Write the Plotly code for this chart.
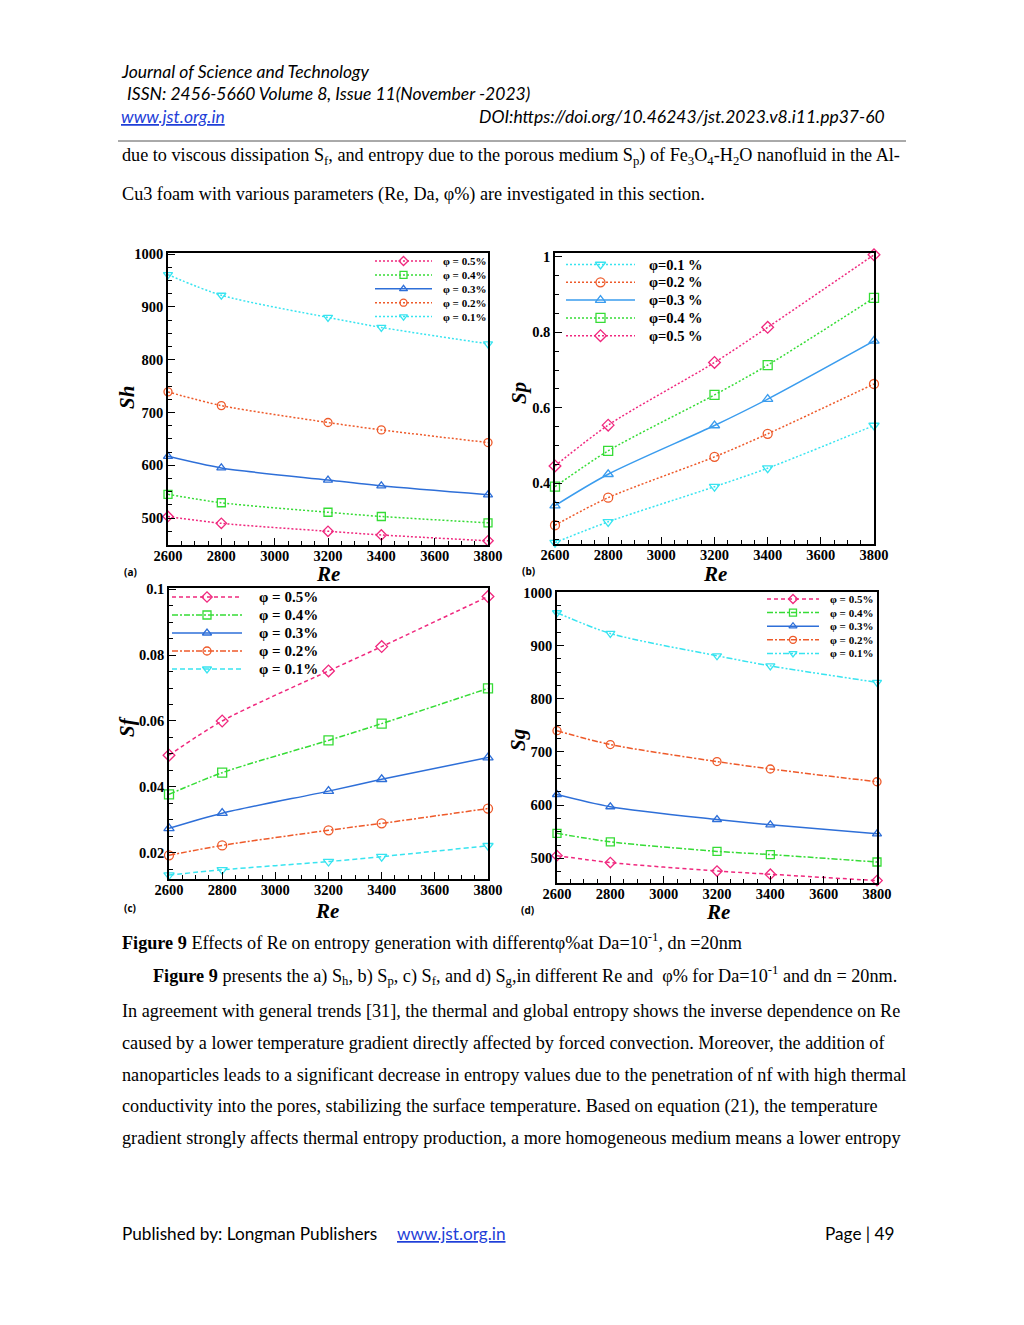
import plotly.graph_objects as go

W, H = 1024, 1325

# ---------------- data ----------------
re_vals = [2600, 2800, 3200, 3400, 3800]
phis = ["0.5", "0.4", "0.3", "0.2", "0.1"]

sh = {
    "0.5": [503, 490, 475, 468, 457],
    "0.4": [545, 529, 511, 503, 491],
    "0.3": [617, 595, 572, 561, 544],
    "0.2": [739, 713, 681, 667, 643],
    "0.1": [961, 922, 880, 861, 830],
}
sp = {
    "0.5": [0.446, 0.554, 0.720, 0.813, 1.005],
    "0.4": [0.391, 0.486, 0.634, 0.713, 0.891],
    "0.3": [0.341, 0.424, 0.553, 0.623, 0.777],
    "0.2": [0.289, 0.362, 0.470, 0.531, 0.663],
    "0.1": [0.243, 0.298, 0.391, 0.440, 0.553],
}
sf = {
    "0.5": [0.0496, 0.0600, 0.0752, 0.0826, 0.0978],
    "0.4": [0.0377, 0.0443, 0.0541, 0.0592, 0.0699],
    "0.3": [0.0274, 0.0320, 0.0387, 0.0423, 0.0489],
    "0.2": [0.0192, 0.0222, 0.0268, 0.0289, 0.0334],
    "0.1": [0.0132, 0.0148, 0.0173, 0.0188, 0.0221],
}
sg = {
    "0.5": [505, 492, 476, 470, 458],
    "0.4": [547, 531, 513, 507, 493],
    "0.3": [620, 597, 573, 563, 546],
    "0.2": [740, 714, 682, 668, 644],
    "0.1": [962, 923, 881, 862, 831],
}

x_ticks = [2600, 2800, 3000, 3200, 3400, 3600, 3800]
sp_ticks = [0.4, 0.6, 0.8, 1.0]
sp_ticktext = ["0.4", "0.6", "0.8", "1"]
sf_ticks = [0.02, 0.04, 0.06, 0.08, 0.1]
sf_ticktext = ["0.02", "0.04", "0.06", "0.08", "0.1"]

# ---------------- styles ----------------
symbols = {"0.5": "diamond-open", "0.4": "square-open", "0.3": "triangle-up-open",
           "0.2": "circle-open", "0.1": "triangle-down-open"}
col_main = {"0.5": "#F0287E", "0.4": "#36DC36", "0.3": "#2E6FD8",
            "0.2": "#EE5A2A", "0.1": "#38E4F0"}
col_b = dict(col_main)
col_b["0.3"] = "#3A9CEE"
DOT = "2px,2px"
DDOT = "6px,2px,2px,2px,2px,2px"
dash_a = {"0.5": DOT, "0.4": DOT, "0.3": "solid", "0.2": DOT, "0.1": DOT}
dash_c = {"0.5": "4px,3px", "0.4": "6px,2px,2px,2px", "0.3": "solid",
          "0.2": "6px,2px,2px,2px", "0.1": "5px,3px"}
dash_d = {"0.5": "4px,3px", "0.4": "6px,2px,2px,2px", "0.3": "solid",
          "0.2": "6px,2px,2px,2px", "0.1": DDOT}

SERIF = "Liberation Serif"

# panel geometry in page pixels: left, right, top, bottom
panels = [
    dict(key="a", data=sh, rng=[449, 1002], frame=(168, 488, 253, 545), colors=col_main,
         dash=dash_a, msize=8, ax=("x", "y")),
    dict(key="b", data=sp, rng=[0.2393, 1.0098], frame=(555, 874, 253, 544), colors=col_b,
         dash=dash_a, msize=9, ax=("x2", "y2")),
    dict(key="c", data=sf, rng=[0.0120, 0.1004], frame=(169, 488, 588, 879), colors=col_main,
         dash=dash_c, msize=9, ax=("x3", "y3")),
    dict(key="d", data=sg, rng=[453.5, 1001], frame=(557, 877, 592, 883), colors=col_main,
         dash=dash_d, msize=8, ax=("x4", "y4")),
]

fig = go.Figure()

for p in panels:
    for ph in phis:
        fig.add_trace(go.Scatter(
            x=re_vals, y=p["data"][ph], xaxis=p["ax"][0], yaxis=p["ax"][1],
            mode="lines+markers", line=dict(color=p["colors"][ph], width=1.5,
                                            dash=p["dash"][ph], shape="spline", smoothing=0.8),
            marker=dict(symbol=symbols[ph], size=p["msize"], color=p["colors"][ph],
                        line=dict(width=1.3, color=p["colors"][ph])),
            cliponaxis=False, showlegend=False, hoverinfo="skip"))

layout_axes = {}
for i, p in enumerate(panels):
    l, r, t, b = p["frame"]
    xn = "xaxis" if i == 0 else f"xaxis{i+1}"
    yn = "yaxis" if i == 0 else f"yaxis{i+1}"
    ya = "y" if i == 0 else f"y{i+1}"
    xa = "x" if i == 0 else f"x{i+1}"
    layout_axes[xn] = dict(
        domain=[l / W, r / W], anchor=ya, range=[2600, 3800], tickvals=x_ticks,
        ticks="inside", ticklen=7, tickwidth=1.2, tickcolor="black", automargin=False,
        ticklabelstandoff=-3,
        minor=dict(dtick=50, tick0=2600, ticks="inside", ticklen=4, tickcolor="black"),
        showline=True, linecolor="black", linewidth=1.5, mirror=True,
        showgrid=False, zeroline=False,
        tickfont=dict(family=SERIF, size=14.5, color="black", weight="bold"))
    yd = dict(
        domain=[1 - b / H, 1 - t / H], anchor=xa, range=p["rng"], automargin=False,
        ticks="inside", ticklen=7, tickwidth=1.2, tickcolor="black",
        showline=True, linecolor="black", linewidth=1.5, mirror=True,
        showgrid=False, zeroline=False,
        tickfont=dict(family=SERIF, size=14.5, color="black", weight="bold"))
    if p["key"] in ("a", "d"):
        yd.update(tick0=0, dtick=100, minor=dict(dtick=25, tick0=0, ticks="inside", ticklen=4, tickcolor="black"))
    elif p["key"] == "b":
        yd.update(tickvals=sp_ticks, ticktext=sp_ticktext,
                  minor=dict(dtick=0.05, tick0=0, ticks="inside", ticklen=4, tickcolor="black"))
    else:
        yd.update(tickvals=sf_ticks, ticktext=sf_ticktext,
                  minor=dict(dtick=0.005, tick0=0, ticks="inside", ticklen=4, tickcolor="black"))
    layout_axes[yn] = yd

# helper page axis for legends and page text
layout_axes["xaxis5"] = dict(domain=[0, 1], range=[0, W], visible=False, anchor="y5",
                             fixedrange=True, automargin=False)
layout_axes["yaxis5"] = dict(domain=[0, 1], range=[H, 0], visible=False, anchor="x5",
                             fixedrange=True, automargin=False)

# legends (drawn manually, page pixel layout)
legends = [
    dict(order=["0.5", "0.4", "0.3", "0.2", "0.1"], x0=375, x1=432, xt=441, y0=261, dy=13.9,
         fs=11, fmt="φ = {}%", colors=col_main, dash=dash_a, ms=7),
    dict(order=["0.1", "0.2", "0.3", "0.4", "0.5"], x0=566, x1=635, xt=647, y0=264.5, dy=17.8,
         fs=14.5, fmt="φ={} %", colors=col_b, dash=dash_a, ms=9),
    dict(order=["0.5", "0.4", "0.3", "0.2", "0.1"], x0=172, x1=242, xt=257, y0=597, dy=18.0,
         fs=15, fmt="φ = {}%", colors=col_main, dash=dash_c, ms=8),
    dict(order=["0.5", "0.4", "0.3", "0.2", "0.1"], x0=767, x1=819, xt=828, y0=599, dy=13.6,
         fs=11, fmt="φ = {}%", colors=col_main, dash=dash_d, ms=7),
]
annotations = []
for lg in legends:
    for k, ph in enumerate(lg["order"]):
        yy = lg["y0"] + k * lg["dy"]
        xm = (lg["x0"] + lg["x1"]) / 2
        fig.add_trace(go.Scatter(x=[lg["x0"], lg["x1"]], y=[yy, yy], xaxis="x5", yaxis="y5",
                                 mode="lines", line=dict(color=lg["colors"][ph], width=1.5, dash=lg["dash"][ph]),
                                 showlegend=False, hoverinfo="skip"))
        fig.add_trace(go.Scatter(x=[xm], y=[yy], xaxis="x5", yaxis="y5", mode="markers",
                                 marker=dict(symbol=symbols[ph], size=lg["ms"], color=lg["colors"][ph],
                                             line=dict(width=1.3, color=lg["colors"][ph])),
                                 showlegend=False, hoverinfo="skip"))
        annotations.append(dict(x=lg["xt"], y=yy, xref="x5", yref="y5", xanchor="left", yanchor="middle",
                                text="<b>" + lg["fmt"].format(ph) + "</b>", showarrow=False,
                                font=dict(family=SERIF, size=lg["fs"], color="black")))

# axis titles
titles = [
    ("Re", 328, 574, 0), ("Sh", 127, 398, -90),
    ("Re", 715, 574, 0), ("Sp", 519, 393, -90),
    ("Re", 327, 911, 0), ("Sf", 127, 727, -90),
    ("Re", 718, 912, 0), ("Sg", 518, 740, -90),
]
for txt, xx, yy, ang in titles:
    annotations.append(dict(x=xx, y=yy, xref="x5", yref="y5", xanchor="center", yanchor="middle",
                            text="<b><i>" + txt + "</i></b>", showarrow=False, textangle=ang,
                            font=dict(family=SERIF, size=21, color="black")))
# panel labels
for txt, xx, yy in [("(a)", 130, 572), ("(b)", 528, 571), ("(c)", 130, 908), ("(d)", 527, 910)]:
    annotations.append(dict(x=xx, y=yy, xref="x5", yref="y5", xanchor="center", yanchor="middle",
                            text="<b>" + txt + "</b>", showarrow=False,
                            font=dict(family="Open Sans", size=10, color="black")))

# page text
HDR = "Lato"
def page_text(txt, x, y, size, family=SERIF, anchor="left", style="normal", color="black"):
    annotations.append(dict(x=x, y=y, xref="x5", yref="y5", xanchor=anchor, yanchor="middle",
                            text=txt, showarrow=False,
                            font=dict(family=family, size=size, color=color, style=style)))

page_text("Journal of Science and Technology", 119, 71, 17.5, HDR, style="italic")
page_text(" ISSN: 2456-5660 Volume 8, Issue 11(November -2023)", 121, 93, 17.5, HDR, style="italic")
page_text("<u>www.jst.org.in</u>", 119, 116, 17.5, HDR, style="italic", color="#1F3FD8")
page_text("DOI:https://doi.org/10.46243/jst.2023.v8.i11.pp37-60", 477, 116, 17.5, HDR, style="italic")

body = 18.2
page_text("due to viscous dissipation S<sub>f</sub>, and entropy due to the porous medium S<sub>p</sub>) of "
          "Fe<sub>3</sub>O<sub>4</sub>-H<sub>2</sub>O nanofluid in the Al-", 120, 156, body)
page_text("Cu3 foam with various parameters (Re, Da, φ%) are investigated in this section.", 120, 194, body)
page_text("<b>Figure 9</b> Effects of Re on entropy generation with differentφ%at Da=10<sup>-1</sup>, dn =20nm",
          120, 941, body)
page_text("<b>Figure 9</b> presents the a) S<sub>h</sub>, b) S<sub>p</sub>, c) S<sub>f</sub>, and d) S<sub>g</sub>,"
          "in different Re and  φ% for Da=10<sup>-1</sup> and dn = 20nm.", 151, 975, body)
para = [
    "In agreement with general trends [31], the thermal and global entropy shows the inverse dependence on Re",
    "caused by a lower temperature gradient directly affected by forced convection. Moreover, the addition of",
    "nanoparticles leads to a significant decrease in entropy values due to the penetration of nf with high thermal",
    "conductivity into the pores, stabilizing the surface temperature. Based on equation (21), the temperature",
    "gradient strongly affects thermal entropy production, a more homogeneous medium means a lower entropy",
]
for k, line in enumerate(para):
    page_text(line, 120, 1011 + k * 31.8, body)

page_text("Published by: Longman Publishers", 120, 1233, 17.2, HDR)
page_text("<u>www.jst.org.in</u>", 395, 1233, 17.2, HDR, color="#1F3FD8")
page_text("Page | 49", 897, 1233, 17.2, HDR, anchor="right")

shapes = [dict(type="line", xref="paper", yref="paper", x0=118 / W, x1=906 / W,
               y0=1 - 141 / H, y1=1 - 141 / H, line=dict(color="#555555", width=1))]

fig.update_layout(
    width=W, height=H, margin=dict(l=0, r=0, t=0, b=0, pad=0, autoexpand=False),
    paper_bgcolor="white", plot_bgcolor="rgba(0,0,0,0)",
    showlegend=False, annotations=annotations, shapes=shapes,
    **layout_axes)

fig.write_html("out.html", config={"displayModeBar": False},
               post_script="document.body.style.margin='0';document.body.style.overflow='hidden';")
